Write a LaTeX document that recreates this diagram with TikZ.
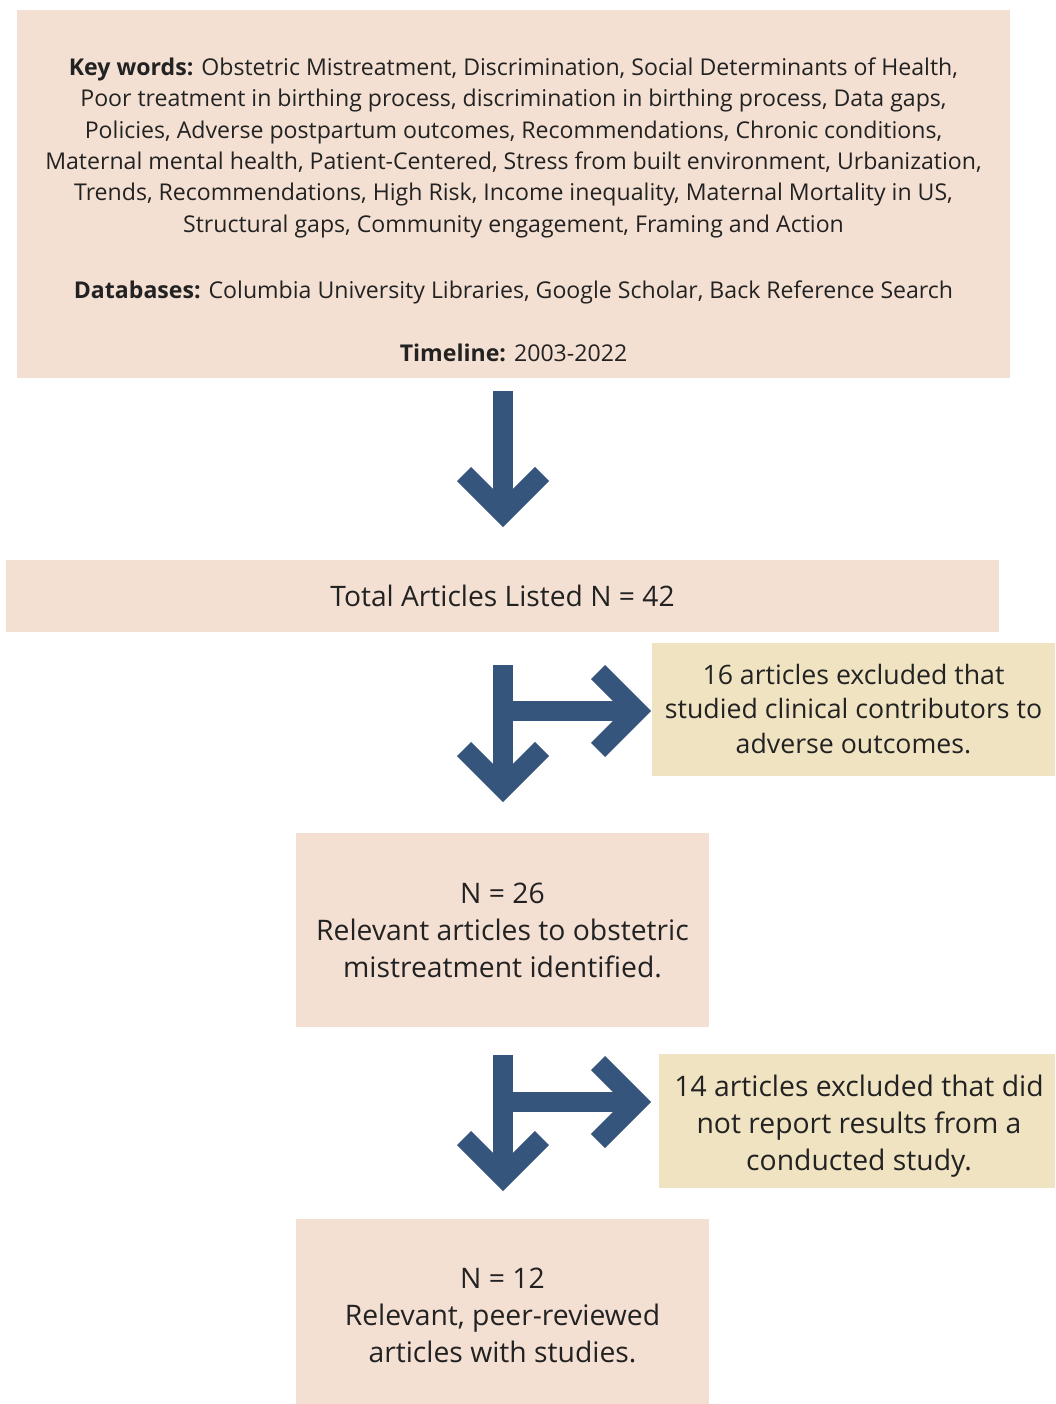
\documentclass[tikz,border=0pt]{standalone}
\usepackage{fontspec}
\setmainfont{Open Sans}
\definecolor{pinkbox}{HTML}{F4E0D3}
\definecolor{tanbox}{HTML}{F0E3C2}
\definecolor{arrowblue}{HTML}{36557D}
\definecolor{ink}{HTML}{222222}
\begin{document}
\begin{tikzpicture}[x=1pt,y=-1pt,
  boxp/.style={fill=pinkbox, draw=none, inner sep=0pt, text=ink, align=center},
  boxt/.style={fill=tanbox, draw=none, inner sep=0pt, text=ink, align=center},
  txt/.style={inner sep=0pt, text=ink, align=center},
  shaft/.style={draw=arrowblue, line width=20pt, line cap=butt},
  chev/.style={draw=arrowblue, line width=20pt, line cap=butt, line join=miter},
  smalltext/.style={font=\fontsize{23.1}{31.4}\selectfont},
  bigtext/.style={font=\fontsize{28.3}{37}\selectfont},
  midtext/.style={font=\fontsize{26.7}{34.5}\selectfont},
  ]
\useasboundingbox (0,0) rectangle (1055,1404);

% boxes
\node[boxp, minimum width=993pt, minimum height=368pt] (top) at (513.5,194) {};
\node[txt, smalltext] (toptext) at (513.5,209.5) {%
\textbf{Key words:} Obstetric Mistreatment, Discrimination, Social Determinants of Health,\\
Poor treatment in birthing process, discrimination in birthing process, Data gaps,\\
Policies, Adverse postpartum outcomes, Recommendations, Chronic conditions,\\
Maternal mental health, Patient-Centered, Stress from built environment, Urbanization,\\
Trends, Recommendations, High Risk, Income inequality, Maternal Mortality in US,\\
Structural gaps, Community engagement, Framing and Action\\[35pt]
\textbf{Databases:} Columbia University Libraries, Google Scholar, Back Reference Search\\[31pt]
\textbf{Timeline:} 2003-2022};

\node[boxp, minimum width=993pt, minimum height=72pt, font=\fontsize{28.2}{36}\selectfont] (total) at (502.5,596) {Total Articles Listed N = 42};

\node[boxt, minimum width=403pt, minimum height=133pt, midtext] (ex1) at (853.5,709) {16 articles excluded that\\studied clinical contributors to\\adverse outcomes.};

\node[boxp, minimum width=413pt, minimum height=194pt, bigtext] (n26) at (502.5,930) {N = 26\\Relevant articles to obstetric\\mistreatment identified.};

\node[boxt, minimum width=396pt, minimum height=134pt] (ex2) at (857,1121) {};
\node[txt, bigtext] (ex2text) at (859,1126) {14 articles excluded that did\\not report results from a\\conducted study.};

\node[boxp, minimum width=413pt, minimum height=185pt] (n12) at (502.5,1311.5) {};
\node[txt, bigtext] (n12text) at (502.5,1315.5) {N = 12\\Relevant, peer-reviewed\\articles with studies.};

% arrow 1
\coordinate (a1s) at (503,391);
\coordinate (a1v) at (503,513);
\draw[shaft] (a1s) -- (a1v);
\draw[chev] ([shift={(-39,-39)}]a1v) -- (a1v) -- ++(39,-39);

% arrow group 2
\coordinate (a2s) at (503,665);
\coordinate (a2v) at (503,788);
\coordinate (a2b) at (503,711);
\coordinate (a2r) at (637,711);
\draw[shaft] (a2s) -- (a2v);
\draw[shaft] (a2b) -- (a2r);
\draw[chev] ([shift={(-39,-39)}]a2v) -- (a2v) -- ++(39,-39);
\draw[chev] ([shift={(-39,-39)}]a2r) -- (a2r) -- ++(-39,39);

% arrow group 3
\coordinate (a3s) at (503,1055);
\coordinate (a3v) at (503,1177);
\coordinate (a3b) at (503,1102);
\coordinate (a3r) at (637,1102);
\draw[shaft] (a3s) -- (a3v);
\draw[shaft] (a3b) -- (a3r);
\draw[chev] ([shift={(-39,-39)}]a3v) -- (a3v) -- ++(39,-39);
\draw[chev] ([shift={(-39,-39)}]a3r) -- (a3r) -- ++(-39,39);
\end{tikzpicture}
\end{document}
